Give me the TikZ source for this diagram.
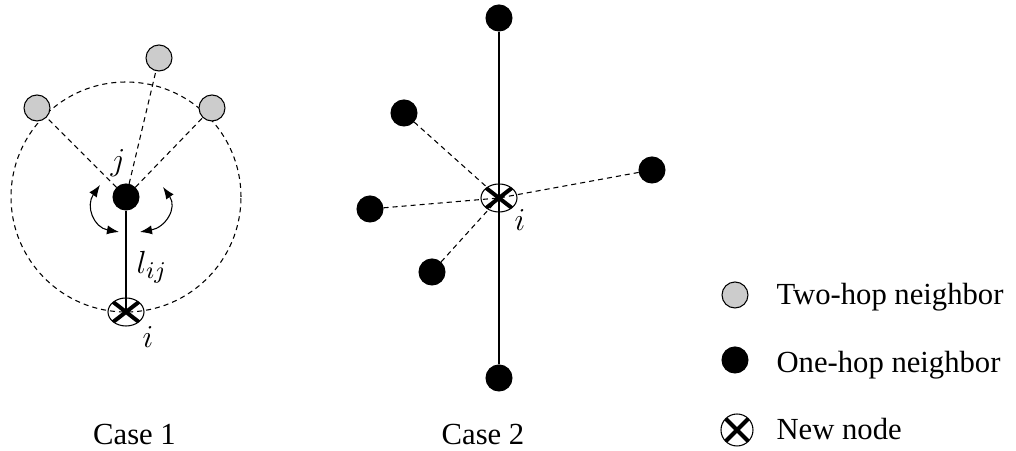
\documentclass[tikz,border=0pt]{standalone}
\usepackage{fontspec}
\setmainfont{Liberation Serif}
\usetikzlibrary{shapes.geometric,arrows.meta,backgrounds}

\tikzset{
  onehop/.style={circle,fill=black,draw=black,line width=0.4pt,inner sep=0pt,minimum size=9.75pt},
  twohop/.style={circle,fill=black!20,draw=black,line width=0.4pt,inner sep=0pt,minimum size=9.75pt},
  crossmark/.style={draw=black,line width=0.4pt,inner sep=0pt,
    path picture={\draw[line width=1.5pt]
      (path picture bounding box.south west) -- (path picture bounding box.north east)
      (path picture bounding box.north west) -- (path picture bounding box.south east);}},
  newnode/.style={ellipse,crossmark,minimum width=13.5pt,minimum height=10.5pt},
  link/.style={line width=0.4pt,dash pattern=on 1.9pt off 1.5pt},
  turn/.style={line width=0.4pt,{Latex[length=4.5pt,width=3.4pt]}-{Latex[length=4.5pt,width=3.4pt]}},
  legtext/.style={anchor=base west,inner sep=0pt},
  mathlab/.style={font=\fontsize{13}{15}\selectfont},
}

\begin{document}
\begin{tikzpicture}[x=0.375pt,y=0.375pt,font=\fontsize{11.5}{14}\selectfont]
    \useasboundingbox (0,0) rectangle (1016,451);

    % Case 1
    \draw[link] (126,254) circle (115);
    \node[twohop] (gl) at (37,343) {};
    \node[twohop] (gt) at (159,393) {};
    \node[twohop] (gr) at (212,343) {};
    \node[onehop] (j) at (126,254) {};
    \node[newnode] (i1) at (126,139) {};
    \node[mathlab] (jlab) at (118,288) {$j$};
    \node[mathlab] (llab) at (152,184) {$l_{ij}$};
    \node[mathlab] (i1lab) at (148,114) {$i$};
    \begin{scope}[on background layer]
        \draw[line width=0.4pt] (j) -- (i1.center);
        \foreach \g in {gl,gt,gr}
            \draw[link] (j) -- (\g);
    \end{scope}
    \coordinate (la) at (100,266);
    \coordinate (lb) at (119,219);
    \coordinate (ra) at (163,264);
    \coordinate (rb) at (140,219);
    \draw[turn] (la) to[out=235,in=170,looseness=1.3] (lb);
    \draw[turn] (ra) to[out=-55,in=10,looseness=1.3] (rb);
    \node[inner sep=0pt,anchor=base] (case1) at (134.5,6) {Case 1};

    % Case 2
    \node[newnode] (i2) at (499,253) {};
    \node[onehop] (nt) at (499,433) {};
    \node[onehop] (nb) at (499,73) {};
    \node[onehop] (nul) at (404,338) {};
    \node[onehop] (nr) at (652,281) {};
    \node[onehop] (nl) at (370,242) {};
    \node[onehop] (nll) at (432,179) {};
    \node[mathlab] (i2lab) at (520,231) {$i$};
    \begin{scope}[on background layer]
        \draw[line width=0.4pt] (nt) -- (nb);
        \foreach \n in {nul,nr,nl,nll}
            \draw[link] (\n) -- (i2.center);
    \end{scope}
    \node[inner sep=0pt,anchor=base] (case2) at (483,6) {Case 2};

    % legend
    \node[twohop] (leg2) at (735,156) {};
    \node[legtext] at (776,146) {Two-hop neighbor};
    \node[onehop] (leg1) at (735,91) {};
    \node[legtext] at (776,78) {One-hop neighbor};
    \node[circle,crossmark,minimum size=12pt] (legn) at (737,21) {};
    \node[legtext] at (776,11) {New node};
\end{tikzpicture}
\end{document}
